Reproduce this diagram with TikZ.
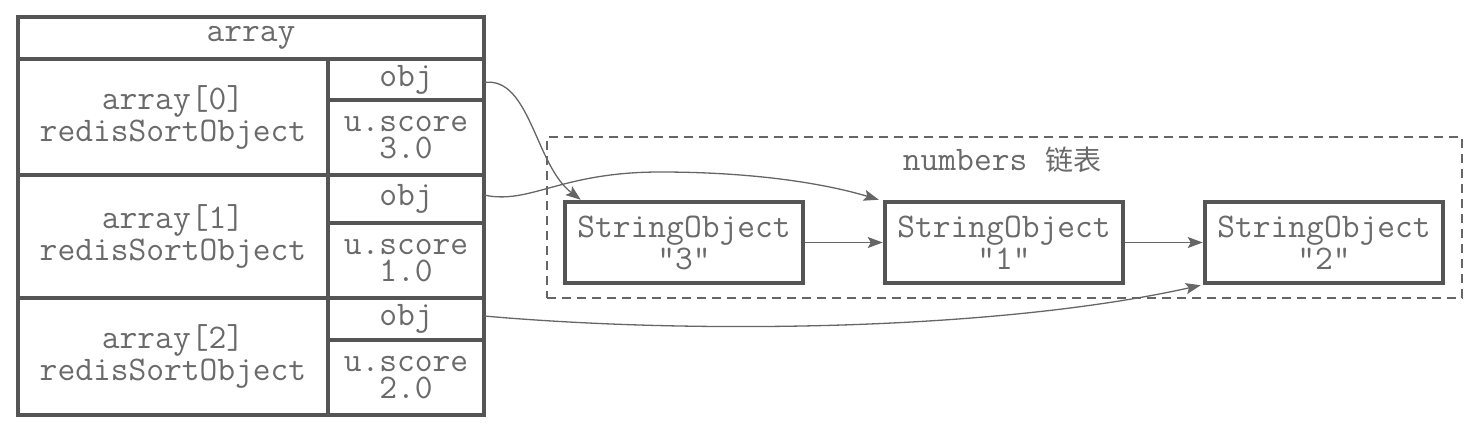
\documentclass[tikz,border=0pt]{standalone}
\usepackage{fontspec}
\newfontfamily\cjk{Noto Sans CJK SC}
\usetikzlibrary{arrows.meta}
\definecolor{linec}{HTML}{555555}
\definecolor{textc}{HTML}{6A6A6A}
\definecolor{arrc}{HTML}{666666}
\tikzset{
  cell/.style={draw=linec, line width=4.5pt, rectangle, inner sep=0pt, outer sep=0pt,
    text=textc, align=center, font=\ttfamily\fontsize{34.5}{32}\selectfont},
  tight/.style={font=\ttfamily\fontsize{34.5}{27}\selectfont},
  strobj/.style={draw=linec, line width=4.5pt, rectangle, inner sep=0pt,
    minimum width=238pt, minimum height=81pt, text=textc, align=center,
    font=\ttfamily\fontsize{34.5}{32}\selectfont},
  listbox/.style={draw=arrc, line width=1.3pt, dash pattern=on 9pt off 6pt, rectangle,
    inner sep=0pt, outer sep=0pt},
  lbl/.style={text=textc, inner sep=0pt, font=\ttfamily\fontsize{34.5}{32}\selectfont},
  conn/.style={draw=arrc, line width=1.3pt, -{Stealth[length=15pt,width=11pt,inset=3pt]}}
}
\begin{document}
\begin{tikzpicture}[x=1pt,y=-1pt]
\useasboundingbox (0,0) rectangle (1484,432);
% dashed list frame
\node[listbox, minimum width=915pt, minimum height=161pt] (list) at (1004.5,217.5) {};
\node[lbl] (listlabel) at (1002,160) {numbers {\cjk\fontsize{28}{30}\selectfont 链表}};
% table
\node[cell, minimum width=466pt, minimum height=42pt] (head) at (251,38) {array};
\node[cell, minimum width=310pt, minimum height=116pt] (r0) at (173,117) {array[0]\\redisSortObject};
\node[cell, minimum width=156pt, minimum height=41pt] (obj0) at (406,79.5) {obj};
\node[cell, tight, minimum width=156pt, minimum height=75pt] (sc0) at (406,137.5) {u.score\\3.0};
\node[cell, minimum width=310pt, minimum height=123pt] (r1) at (173,236.5) {array[1]\\redisSortObject};
\node[cell, minimum width=156pt, minimum height=48pt] (obj1) at (406,199) {obj};
\node[cell, tight, minimum width=156pt, minimum height=75pt] (sc1) at (406,260.5) {u.score\\1.0};
\node[cell, minimum width=310pt, minimum height=117pt] (r2) at (173,356.5) {array[2]\\redisSortObject};
\node[cell, minimum width=156pt, minimum height=42pt] (obj2) at (406,319) {\raisebox{3pt}{obj}};
\node[cell, tight, minimum width=156pt, minimum height=75pt] (sc2) at (406,377.5) {u.score\\2.0};
% string objects
\node[strobj] (s3) at (684,242.5) {StringObject\\"3"};
\node[strobj] (s1) at (1004,242.5) {StringObject\\"1"};
\node[strobj] (s2) at (1324,242.5) {StringObject\\"2"};
% connectors
\draw[conn] ([yshift=-3pt]obj0.east) .. controls (530,76) and (535,165) .. ([xshift=18pt]s3.north west);
\draw[conn] ([yshift=4pt]obj1.east) .. controls (530,205) and (560,172) .. (660,172)
   .. controls (760,172) and (830,185) .. ([xshift=-4pt]s1.north west);
\draw[conn] (s3.east) -- (s1.west);
\draw[conn] (s1.east) -- (s2.west);
\draw[conn] ([yshift=3pt]obj2.east) .. controls (700,335) and (1000,330) .. ([xshift=-2pt]s2.south west);
\end{tikzpicture}
\end{document}
